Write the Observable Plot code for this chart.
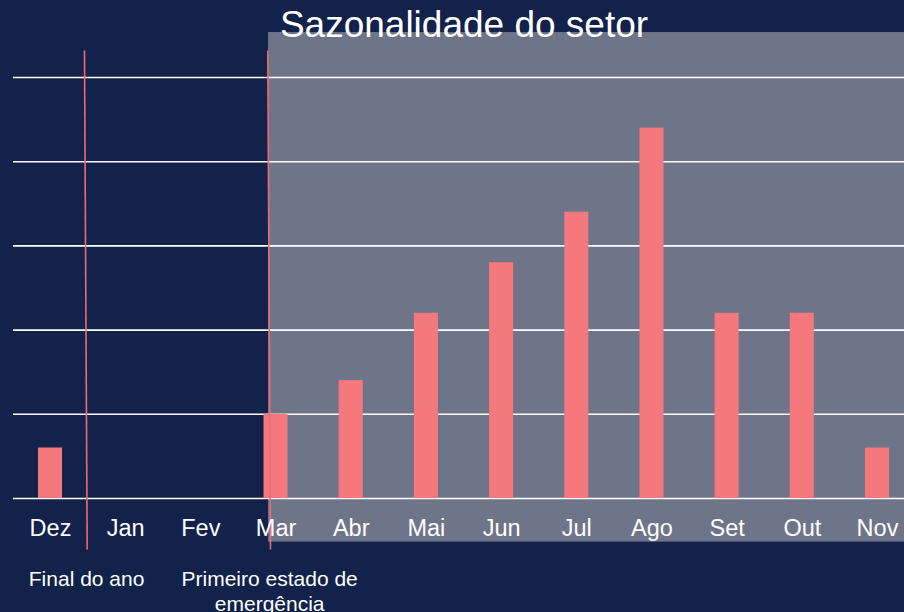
<!DOCTYPE html>
<html>
<head>
<meta charset="utf-8">
<script src="https://cdn.jsdelivr.net/npm/d3@7"></script>
<script src="https://cdn.jsdelivr.net/npm/@observablehq/plot@0.6"></script>
<style>
  html, body { margin: 0; padding: 0; background: #12224a; }
  #chart svg { display: block; }
</style>
</head>
<body>
<div id="chart"></div>
<script>
// ---- data ----
const months = ["Dez", "Jan", "Fev", "Mar", "Abr", "Mai", "Jun", "Jul", "Ago", "Set", "Out", "Nov"];
const values = [3, 0, 0, 5, 7, 11, 14, 17, 22, 11, 11, 3];
const gridTicks = [0, 5, 10, 15, 20, 25];
const title = "Sazonalidade do setor";
// event markers (x in month-index units)
const markerLabels = ["Final do ano", "Primeiro estado de\nemergência"];
const markerTopX = [0.452, 2.890];
const markerBottomX = [0.488, 2.926];
const markerLabelX = [0.48, 2.915];
// shaded period (after first state of emergency)
const shadeX = [2.90, 11.4];
const shadeY = [-2.59, 27.67];

// ---- derived tables ----
const bars = months.map((m, i) => ({i, month: m, value: values[i]}));
const markers = markerLabels.map((label, k) => ({
  label, x1: markerTopX[k], x2: markerBottomX[k], lx: markerLabelX[k]
}));
const shade = [{x1: shadeX[0], x2: shadeX[1], y1: shadeY[0], y2: shadeY[1]}];

const halfBar = 0.16;
const navy = "#12224a";
const gray = "#6f7588";
const barColor = "#f4787c";
const lineColor = "#ef6a70";

const chart = Plot.plot({
  width: 904,
  height: 612,
  marginLeft: 13,
  marginRight: 0,
  marginTop: 0,
  marginBottom: 0,
  style: {background: navy, fontFamily: "'Liberation Sans', Arial, sans-serif", color: "white"},
  x: {type: "linear", domain: [0, 11], range: [50, 877], axis: null},
  y: {type: "linear", domain: [0, 25], range: [498, 77], axis: null},
  marks: [
    Plot.rect(shade, {x1: "x1", x2: "x2", y1: "y1", y2: "y2", fill: gray}),
    Plot.ruleY(gridTicks, {stroke: "white", strokeWidth: 1.6}),
    Plot.rect(bars.filter(d => d.value > 0), {
      x1: d => d.i - halfBar, x2: d => d.i + halfBar, y1: 0, y2: "value", fill: barColor
    }),
    Plot.link(markers, {x1: "x1", x2: "x2", y1: 26.6, y2: -3.03, stroke: lineColor, strokeWidth: 1.6}),
    Plot.text(bars, {
      x: "i", y: -2.24, text: "month", lineAnchor: "bottom",
      fill: "white", fontSize: 23.5
    }),
    Plot.text(markers, {
      x: "lx", y: -4.12, text: "label", lineAnchor: "top", lineHeight: 1.2,
      fill: "white", fontSize: 21
    }),
    Plot.text([title], {
      frameAnchor: "top", dx: 5, dy: 10.4, lineAnchor: "top",
      fill: "white", fontSize: 37
    })
  ]
});
document.getElementById("chart").appendChild(chart);
</script>
</body>
</html>
